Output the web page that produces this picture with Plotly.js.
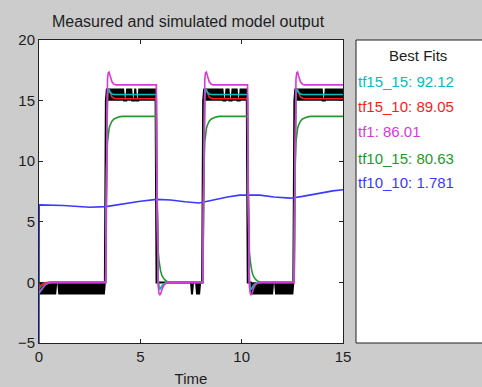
<!DOCTYPE html>
<html><head><meta charset="utf-8">
<script src="https://cdn.plot.ly/plotly-3.0.1.min.js"></script>
<style>html,body{margin:0;padding:0;background:#cccccc;} #chart{width:482px;height:387px;}</style>
</head><body><div id="chart"></div>
<script>
// ---- data ----
const measuredStep = 0.05; // sampling interval of the measured output (s)
const measuredValues = [
  -1,0,-1,0,-1,0,-1,0,-1,0,
  -1,0,-1,0,-1,0,-1,0,0,0,
  -1,0,-1,0,-1,0,-1,0,-1,0,
  -1,0,-1,0,-1,0,-1,0,-1,0,
  -1,0,-1,0,-1,0,-1,0,-1,0,
  -1,0,-1,0,-1,0,-1,0,-1,0,
  -1,0,-1,0,-1,0,15,16,15,16,
  15,16,15,16,15,16,15,16,15,16,
  15,16,15,16,15,15,15,16,15,16,
  15,16,15,15,15,16,15,15,15,16,
  15,16,15,16,15,16,15,16,15,16,
  15,16,15,16,15,16,0,0,0,0,
  0,0,0,0,0,0,0,0,0,0,
  0,0,0,0,0,0,0,0,0,0,
  0,0,0,0,0,0,0,0,0,0,
  0,-1,0,0,0,0,-1,0,-1,0,
  0,0,15,16,15,16,15,16,15,16,
  15,16,15,16,15,16,15,16,15,16,
  15,16,15,15,15,16,15,16,15,15,
  15,16,15,16,15,16,15,15,15,16,
  15,16,15,16,15,16,0,0,0,0,
  -1,0,-1,0,-1,0,-1,0,-1,0,
  -1,0,-1,0,-1,0,-1,0,-1,0,
  -1,0,0,0,-1,0,-1,0,-1,0,
  -1,0,-1,0,-1,0,-1,0,-1,0,
  -1,0,15,16,15,16,15,16,15,16,
  15,16,15,16,15,16,15,16,15,16,
  15,16,15,16,15,16,15,16,15,16,
  15,15,15,16,15,16,15,16,15,16,
  15,16,15,16,15,16,15,16,15,16,
  15
];
const modelTime = [
  0,0.1,0.2,0.3,0.45,0.6,
  3.29,3.31,3.34,3.38,3.42,3.46,3.5,3.55,3.6,3.7,3.8,3.95,4.1,4.3,
  5.79,5.81,5.84,5.88,5.92,5.96,6.0,6.05,6.1,6.2,6.3,6.45,6.6,6.8,
  8.09,8.11,8.14,8.18,8.22,8.26,8.3,8.35,8.4,8.5,8.6,8.75,8.9,9.1,
  10.29,10.31,10.34,10.38,10.42,10.46,10.5,10.55,10.6,10.7,10.8,10.95,11.1,11.3,
  12.59,12.61,12.64,12.68,12.72,12.76,12.8,12.85,12.9,13.0,13.1,13.25,13.4,13.6,
  15
];
const tf15_15 = [
  -0.9,-0.7,-0.45,-0.2,-0.05,0,
  0,5.5,13.2,15.4,15.95,15.9,15.7,15.6,15.55,15.5,15.5,15.5,15.5,15.5,
  15.5,9,2.2,0.2,-0.45,-0.6,-0.5,-0.35,-0.2,-0.08,0,0,0,0,
  0,5.5,13.2,15.4,15.95,15.9,15.7,15.6,15.55,15.5,15.5,15.5,15.5,15.5,
  15.5,9,2.2,0.2,-0.45,-0.6,-0.5,-0.35,-0.2,-0.08,0,0,0,0,
  0,5.5,13.2,15.4,15.95,15.9,15.7,15.6,15.55,15.5,15.5,15.5,15.5,15.5,
  15.5
];
const tf15_10 = [
  -0.3,-0.2,-0.1,-0.05,0,0,
  0,6,13.5,15.6,16.0,15.85,15.6,15.4,15.3,15.2,15.15,15.15,15.15,15.15,
  15.15,9,2,0.1,-0.4,-0.5,-0.45,-0.35,-0.25,-0.1,-0.05,0,0,0,
  0,6,13.5,15.6,16.0,15.85,15.6,15.4,15.3,15.2,15.15,15.15,15.15,15.15,
  15.15,9,2,0.1,-0.4,-0.5,-0.45,-0.35,-0.25,-0.1,-0.05,0,0,0,
  0,6,13.5,15.6,16.0,15.85,15.6,15.4,15.3,15.2,15.15,15.15,15.15,15.15,
  15.15
];
const tf1 = [
  -0.8,-0.6,-0.4,-0.2,-0.05,0,
  0,6,14.5,16.8,17.3,17.35,17.1,16.8,16.55,16.35,16.3,16.3,16.3,16.3,
  16.3,10,2.5,-0.3,-0.9,-1.05,-0.95,-0.7,-0.45,-0.15,-0.05,0,0,0,
  0,6,14.5,16.8,17.3,17.35,17.1,16.8,16.55,16.35,16.3,16.3,16.3,16.3,
  16.3,10,2.5,-0.3,-0.9,-1.05,-0.95,-0.7,-0.45,-0.15,-0.05,0,0,0,
  0,6,14.5,16.8,17.3,17.35,17.1,16.8,16.55,16.35,16.3,16.3,16.3,16.3,
  16.3
];
const tf10_15 = [
  -0.5,-0.3,-0.15,-0.05,0,0,
  0,4.5,9.5,11.6,12.3,12.7,12.95,13.15,13.3,13.48,13.58,13.66,13.7,13.7,
  13.7,9,4.5,2.6,1.8,1.3,0.95,0.65,0.45,0.22,0.1,0.03,0,0,
  0,4.5,9.5,11.6,12.3,12.7,12.95,13.15,13.3,13.48,13.58,13.66,13.7,13.7,
  13.7,9,4.5,2.6,1.8,1.3,0.95,0.65,0.45,0.22,0.1,0.03,0,0,
  0,4.5,9.5,11.6,12.3,12.7,12.95,13.15,13.3,13.48,13.58,13.66,13.7,13.7,
  13.7
];
const tf10_10Time = [0,0.01,1.2,2.5,3.3,4.2,5.0,5.8,6.5,7.2,7.9,8.6,9.3,9.9,10.9,11.6,12.4,13.0,13.8,14.5,15];
const tf10_10 = [-5,6.4,6.35,6.2,6.25,6.5,6.7,6.85,6.8,6.65,6.55,6.8,7.05,7.2,7.2,7.05,6.95,7.1,7.35,7.55,7.65];

const fitModels = ['tf15_15','tf15_10','tf1','tf10_15','tf10_10'];
const fitPercents = ['92.12','89.05','86.01','80.63','1.781'];
const xTicks = [0,5,10,15];
const yTicks = [-5,0,5,10,15,20];

// ---- styling ----
const fitColors = ['#00bdbd','#ff1a1a','#d63ad6','#22992a','#3a3aff'];
const fitSeries = [tf15_15, tf15_10, tf1, tf10_15, tf10_10];
const fitTimes = [modelTime, modelTime, modelTime, modelTime, tf10_10Time];
const drawOrder = [4,3,1,0,2];
const FONT = 'Liberation Sans, Arial, sans-serif';
const TXT = '#1e1e1e';

const measuredTime = measuredValues.map((_, i) => +(i * measuredStep).toFixed(2));
const traces = [{
  x: measuredTime, y: measuredValues, type: 'scatter', mode: 'lines',
  line: {color: '#000000', width: 2}, name: 'Measured', hoverinfo: 'skip'
}];
drawOrder.forEach(k => traces.push({
  x: fitTimes[k], y: fitSeries[k], type: 'scatter', mode: 'lines',
  line: {color: fitColors[k], width: 1.6}, name: fitModels[k], hoverinfo: 'skip'
}));

const W = 482, H = 387;
const plotL = 39, plotR = 343, plotT = 40, plotB = 343;
const annotations = [{
  text: 'Best Fits', x: 418 / W, y: 1 - 55 / H, xref: 'paper', yref: 'paper',
  xanchor: 'center', yanchor: 'middle', showarrow: false, font: {family: FONT, size: 15, color: TXT}
}];
const entryY = [81, 106, 132, 158, 183];
fitModels.forEach((m, i) => annotations.push({
  text: m + ': ' + fitPercents[i], x: 356 / W, y: 1 - entryY[i] / H, xref: 'paper', yref: 'paper',
  xanchor: 'left', yanchor: 'middle', showarrow: false, font: {family: FONT, size: 15, color: fitColors[i]}
}));

const axisCommon = {
  showline: true, linecolor: '#222222', linewidth: 1, mirror: 'ticks',
  ticks: 'inside', ticklen: 4, tickcolor: '#222222', showgrid: false, zeroline: false,
  tickfont: {family: FONT, size: 15, color: TXT}, fixedrange: true
};
const layout = {
  width: W, height: H, margin: {l: 0, r: 0, t: 0, b: 0},
  paper_bgcolor: '#cccccc', plot_bgcolor: '#ffffff', showlegend: false,
  title: {text: 'Measured and simulated model output', font: {family: FONT, size: 16, color: TXT},
          x: 188 / W, xanchor: 'center', xref: 'container', y: 1 - 21 / H, yanchor: 'middle', yref: 'container'},
  xaxis: Object.assign({}, axisCommon, {domain: [plotL / W, plotR / W], range: [0, 15], tickvals: xTicks,
          title: {text: 'Time', font: {family: FONT, size: 15, color: TXT}, standoff: 9}}),
  yaxis: Object.assign({}, axisCommon, {domain: [1 - plotB / H, 1 - plotT / H], range: [-5, 20], tickvals: yTicks}),
  shapes: [{type: 'rect', xref: 'paper', yref: 'paper', x0: 356 / W, x1: 1.02, y0: 1 - plotB / H, y1: 1 - plotT / H,
            fillcolor: '#ffffff', line: {color: '#222222', width: 1}, layer: 'above'}],
  annotations: annotations
};
Plotly.newPlot('chart', traces, layout, {staticPlot: true, displayModeBar: false});
</script></body></html>
